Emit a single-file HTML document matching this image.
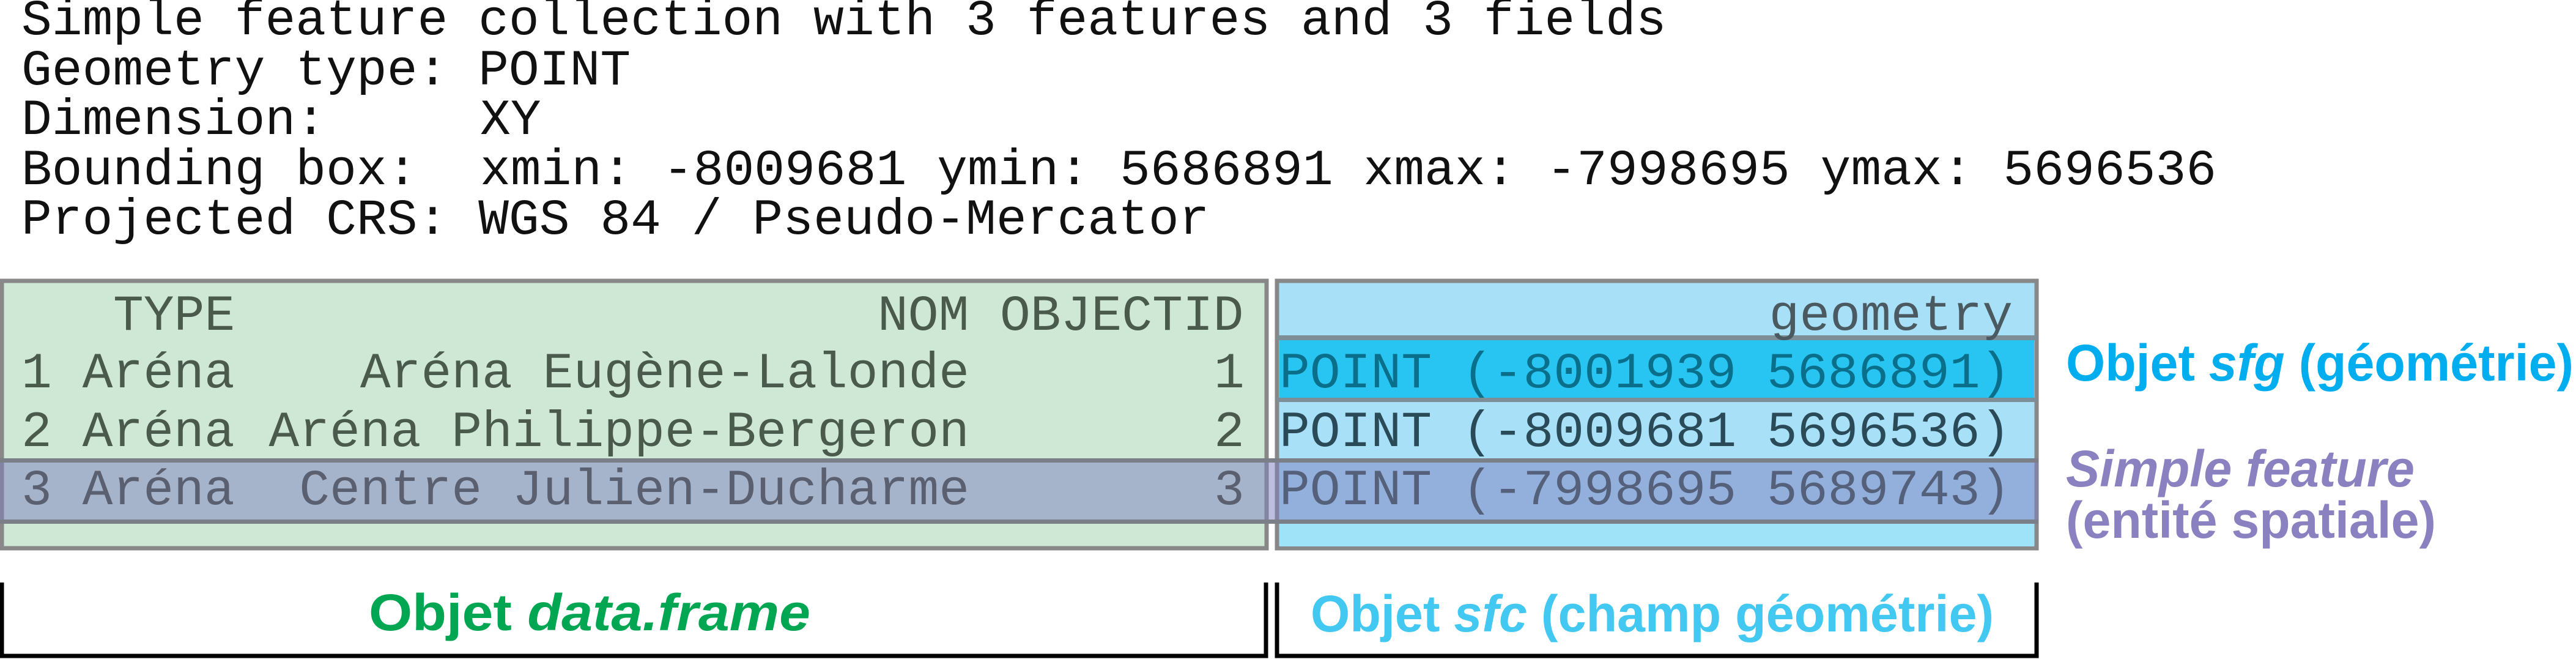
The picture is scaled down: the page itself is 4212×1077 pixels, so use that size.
<!DOCTYPE html>
<html><head><meta charset="utf-8"><style>
html,body{margin:0;padding:0;background:#fff;width:4212px;height:1077px;overflow:hidden}
svg{display:block}
.m{font-family:"Liberation Mono",monospace;font-size:83px}
.s{font-family:"Liberation Sans",sans-serif;font-size:84px;font-weight:bold}
</style></head><body>
<svg width="4212" height="1077" viewBox="0 0 4212 1077" xmlns="http://www.w3.org/2000/svg">
<!-- header text -->
<g class="m" fill="#111">
<text x="35" y="56">Simple feature collection with 3 features and 3 fields</text>
<text x="35" y="138">Geometry type: POINT</text>
<text x="35" y="219">Dimension:</text><text x="785" y="219">XY</text>
<text x="35" y="301">Bounding box:</text><text x="785" y="301">xmin: -8009681 ymin: 5686891 xmax: -7998695 ymax: 5696536</text>
<text x="35" y="382">Projected CRS: WGS 84 / Pseudo-Mercator</text>
</g>
<!-- green box -->
<rect x="3" y="459" width="2068" height="437" fill="#cfe8d6" stroke="#888" stroke-width="7"/>
<!-- blue box -->
<rect x="2088" y="459" width="1242" height="437" fill="#a8e0f8" stroke="#888" stroke-width="7"/>
<rect x="2092" y="556" width="1234" height="94" fill="#29c5f2"/>
<rect x="2092" y="856" width="1234" height="37" fill="#9fe3f8"/>
<rect x="2088" y="548" width="1242" height="8" fill="#7e8e96"/>
<rect x="2088" y="650" width="1242" height="7" fill="#7e8e96"/>
<!-- purple band -->
<rect x="0" y="752" width="3333" height="101" fill="#7d7fc0" fill-opacity="0.5"/>
<rect x="0" y="749" width="3333" height="7" fill="#7a7f88"/>
<rect x="0" y="849" width="3333" height="7" fill="#7a7f88"/>
<!-- table text -->
<g class="m" fill="#4a5a4c">
<text x="185" y="539">TYPE</text>
<text x="1435" y="539">NOM</text>
<text x="1635" y="539">OBJECTID</text>
<text x="35" y="633">1 Aréna</text>
<text x="1585" y="633" text-anchor="end">Aréna Eugène-Lalonde</text>
<text x="1985" y="633">1</text>
<text x="35" y="729">2 Aréna</text>
<text x="1585" y="729" text-anchor="end">Aréna Philippe-Bergeron</text>
<text x="1985" y="729">2</text>
</g>
<g class="m" fill="#5a6070">
<text x="35" y="824">3 Aréna</text>
<text x="1585" y="824" text-anchor="end">Centre Julien-Ducharme</text>
<text x="1985" y="824">3</text>
</g>
<g class="m">
<text x="3291" y="539" text-anchor="end" fill="#4a5a60">geometry</text>
<text x="2092" y="633" fill="#0a6f8a">POINT (-8001939 5686891)</text>
<text x="2092" y="729" fill="#2a4a58">POINT (-8009681 5696536)</text>
<text x="2092" y="824" fill="#55607a">POINT (-7998695 5689743)</text>
</g>
<!-- side labels -->
<text class="s" x="3378" y="622" fill="#00aeef" textLength="830" lengthAdjust="spacingAndGlyphs">Objet <tspan font-style="italic">sfg</tspan> (géométrie)</text>
<text class="s" x="3378" y="795" fill="#8a82c0" font-style="italic" textLength="570" lengthAdjust="spacingAndGlyphs">Simple feature</text>
<text class="s" x="3378" y="879" fill="#8a82c0" textLength="605" lengthAdjust="spacingAndGlyphs">(entité spatiale)</text>
<!-- brackets -->
<path d="M3 952 V1072 H2070 V952" fill="none" stroke="#000" stroke-width="7"/>
<path d="M2088 952 V1072 H3330 V952" fill="none" stroke="#000" stroke-width="7"/>
<text class="s" x="603" y="1030" fill="#00a651" textLength="722" lengthAdjust="spacingAndGlyphs">Objet <tspan font-style="italic">data.frame</tspan></text>
<text class="s" x="2143" y="1032" fill="#43c8f2" textLength="1117" lengthAdjust="spacingAndGlyphs">Objet <tspan font-style="italic">sfc</tspan> (champ géométrie)</text>
</svg>
</body></html>
